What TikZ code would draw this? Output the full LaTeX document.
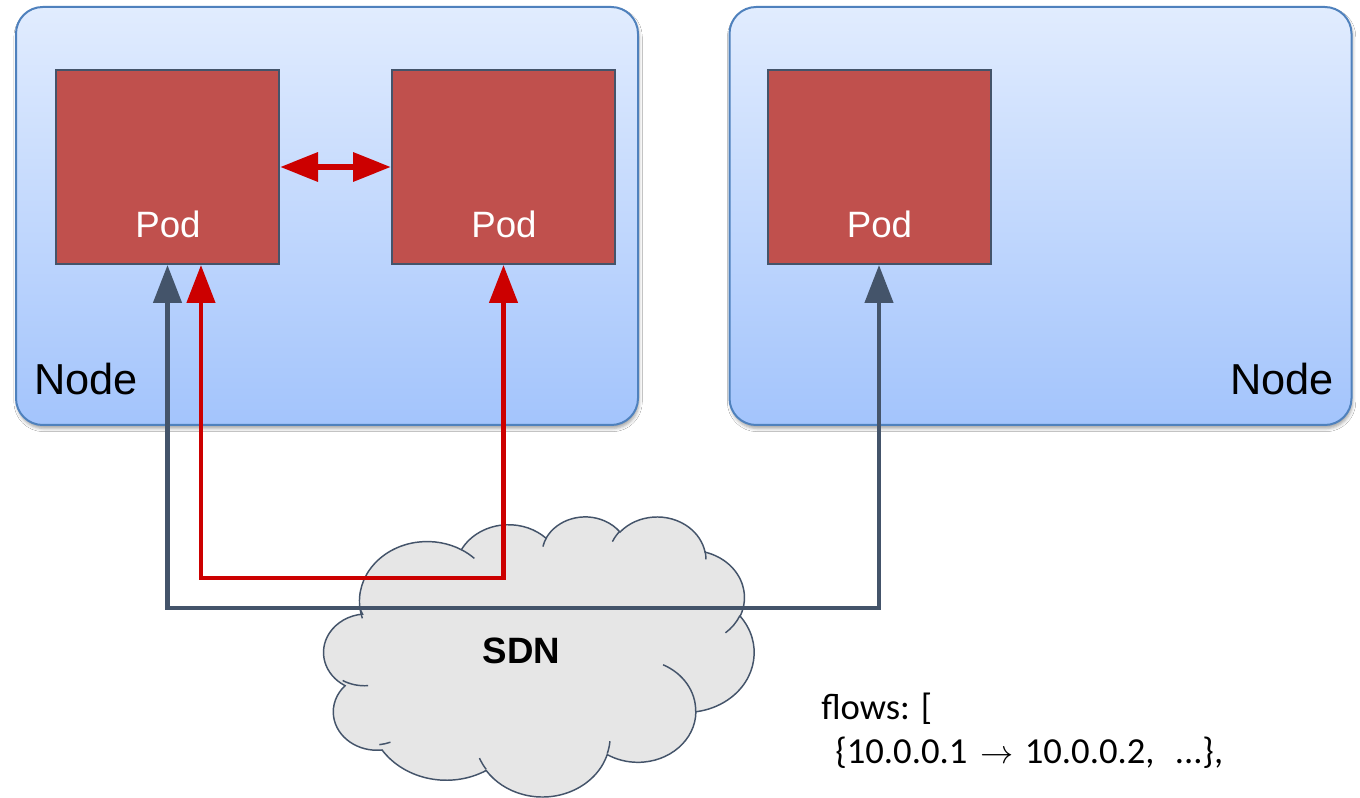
\documentclass[tikz,border=0pt]{standalone}
\usepackage{fontspec}
\setmainfont{Liberation Sans}
\newfontfamily\flowfont{Carlito}
\usetikzlibrary{arrows.meta,shadows.blur}

\definecolor{hostTop}{RGB}{225,236,254}
\definecolor{hostBot}{RGB}{163,196,252}
\definecolor{hostEdge}{RGB}{79,129,189}
\definecolor{podFill}{RGB}{192,80,77}
\definecolor{slate}{RGB}{68,84,106}
\definecolor{flowRed}{RGB}{204,0,0}
\definecolor{cloudFill}{RGB}{230,230,230}

% Elliptic arc given as in preset shape geometry: radii, visual start angle, sweep.
% Defines a style #1 holding the matching parametric arc options.
\newcommand\ooprep[5]{%
  \pgfmathsetmacro\ooa{atan2(#2*sin(#4),#3*cos(#4))}%
  \pgfmathsetmacro\oob{atan2(#2*sin(#4+#5),#3*cos(#4+#5))}%
  \pgfmathsetmacro\ood{\oob-\ooa}%
  \pgfmathsetmacro\ood{\ood<0 ? \ood+360 : \ood}%
  \pgfmathsetlengthmacro\oorx{#2*0.75}%
  \pgfmathsetlengthmacro\oory{#3*0.75}%
  \edef\oodo{\noexpand\tikzset{#1/.style={start angle=\ooa, delta angle=\ood, x radius=\oorx, y radius=\oory}}}%
  \oodo}

\begin{document}
\begin{tikzpicture}[x=0.75pt,y=-0.75pt,
  hostbox/.style={draw=hostEdge, line width=1.5pt, rounded corners=20pt,
    top color=hostTop, bottom color=hostBot,
    minimum width=466.5pt, minimum height=313.5pt, inner sep=0pt,
    blur shadow={shadow xshift=0.8pt, shadow yshift=-2.6pt, shadow blur radius=2.4pt, shadow opacity=35}},
  podbox/.style={draw=slate, line width=1.5pt, fill=podFill,
    minimum width=167.25pt, minimum height=145.5pt, inner sep=0pt},
  podlabel/.style={anchor=base, text=white, inner sep=0pt, font=\fontsize{27.5pt}{31pt}\selectfont},
  hostlabel/.style={inner sep=0pt, font=\fontsize{32.5pt}{37pt}\selectfont},
  bigtip/.tip={Triangle[length=28.5pt,width=21pt]},
  slateflow/.style={draw=slate, line width=3.4pt, {bigtip}-{bigtip}},
  redflow/.style={draw=flowRed, line width=3.4pt, {bigtip}-{bigtip}},
  cloudbody/.style={fill=cloudFill, draw=slate, line width=1.1pt},
  cloudline/.style={draw=slate, line width=1.1pt},
  flowtext/.style={anchor=base west, inner sep=0pt, font=\flowfont\fontsize{27.5pt}{32pt}\selectfont}]

\fill[white] (0,0) rectangle (1360,798);
\useasboundingbox (0,0) rectangle (1360,798);

% hosts and pods
\node[hostbox] (hostL) at (327,216) {};
\node[hostbox] (hostR) at (1040.5,216) {};
\node[podbox] (pod1) at (167.5,167) {};
\node[podbox] (pod2) at (503.5,167) {};
\node[podbox] (pod3) at (879,167) {};
\node[podlabel] (pod1t) at (168,238) {Pod};
\node[podlabel] (pod2t) at (504,238) {Pod};
\node[podlabel] (pod3t) at (879.5,238) {Pod};
\node[hostlabel, anchor=base west] (hostLt) at (34,395) {Node};
\node[hostlabel, anchor=base east] (hostRt) at (1334,395) {Node};

% SDN cloud
\ooprep{cA}{67.53}{91.90}{-190.48748}{123.78053}
\ooprep{cB}{53.33}{72.67}{-144.10238}{89.94523}
\ooprep{cC}{43.65}{59.45}{-145.80792}{99.72302}
\ooprep{cD}{48.57}{65.95}{-130.98607}{117.24173}
\ooprep{cE}{53.33}{72.73}{-78.70888}{109.02692}
\ooprep{cF}{67.75}{92.20}{-46.26725}{130.269}
\ooprep{cG}{57.85}{78.67}{0.62502}{114.03333}
\ooprep{cH}{67.52}{92.15}{22.4516}{115.17255}
\ooprep{cI}{77.20}{105.43}{66.24263}{71.26393}
\ooprep{cJ}{43.60}{59.18}{-274.94208}{146.73557}
\ooprep{cK}{43.45}{59.45}{-246.8285}{152.51885}
\ooprep{iA}{43.45}{59.45}{86.742}{26.4295}
\ooprep{iB}{43.60}{59.18}{73.61047}{11.44747}
\ooprep{iC}{67.52}{92.15}{137.62415}{14.0811}
\ooprep{iD}{67.52}{92.15}{6.45327}{15.99835}
\ooprep{iE}{57.85}{78.67}{-70.29235}{70.91737}
\ooprep{iF}{53.33}{72.73}{30.31803}{27.7515}
\ooprep{iG}{48.57}{65.95}{-13.74433}{14.8589}
\ooprep{iH}{48.57}{65.95}{-149.18145}{18.19537}
\ooprep{iI}{43.65}{59.45}{-163.49427}{17.68635}
\ooprep{iJ}{67.53}{91.90}{-66.70695}{12.31935}
\ooprep{iK}{67.53}{91.90}{157.65435}{11.85817}
\begin{scope}[shift={(321,516)}, x=0.75pt, y=0.75pt, xscale=1.0023, yscale=-0.6481]
  \path[cloudbody] (39.00,143.70) arc[cA] arc[cB] arc[cC] arc[cD] arc[cE] arc[cF]
    arc[cG] arc[cH] arc[cI] arc[cJ] arc[cK] -- cycle;
  \path[cloudline] (46.93,261.77) arc[iA] (69.28,348.99) arc[iB]
    (164.78,390.90) arc[iC] (288.27,347.51) arc[iD] (341.29,229.54) arc[iE]
    (417.98,153.54) arc[iF] (383.24,54.26) arc[iG] (290.78,39.52) arc[iH]
    (221.41,47.20) arc[iI] (140.00,51.92) arc[iJ] (41.27,157.89) arc[iK];
\end{scope}
\node[anchor=base, inner sep=0pt, font=\bfseries\fontsize{27.5pt}{31pt}\selectfont] (sdn) at (521.5,663) {SDN};

% flows
\coordinate (gbus) at (0,608);
\coordinate (rbus) at (0,578);
\coordinate (r1) at ([xshift=25.1pt]pod1.south);
\draw[slateflow] (pod1.south) -- (pod1.south |- gbus) -- (pod3.south |- gbus) -- (pod3.south);
\draw[redflow] (r1) -- (r1 |- rbus) -- (pod2.south |- rbus) -- (pod2.south);
\draw[draw=flowRed, line width=4.9pt, {bigtip}-{bigtip}] (pod1.east) -- (pod2.west);

% flow table
\node[flowtext] (flows1) at (821,719.5) {flows: [};
\node[flowtext] (flows2) at (835,763)
  {\makebox[108.75pt][l]{\{10.0.0.1}\makebox[33.4pt][l]{$\rightarrow$}\makebox[112.5pt][l]{10.0.0.2,}...\},};
\end{tikzpicture}
\end{document}
